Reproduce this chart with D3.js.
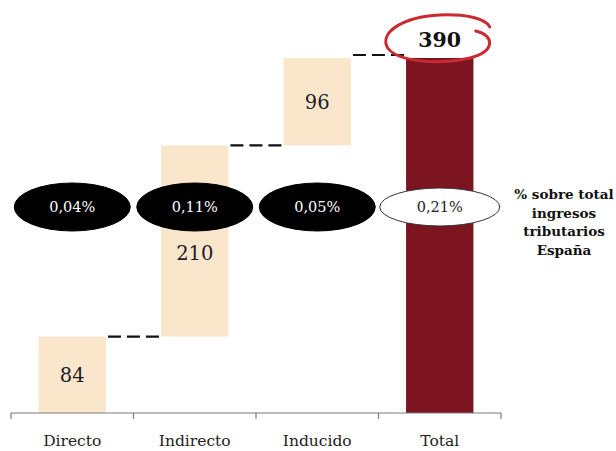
<!DOCTYPE html>
<html>
<head>
<meta charset="utf-8">
<script src="https://cdn.jsdelivr.net/npm/d3@7"></script>
<style>
  html, body { margin: 0; padding: 0; background: #fff; }
  svg { display: block; }
</style>
</head>
<body>
<svg id="chart" width="616" height="451"></svg>
<script>
// ---- data ----
const categories = ["Directo", "Indirecto", "Inducido", "Total"];
const values = [84, 210, 96, 390];
const isTotal = [false, false, false, true];
const pctLabels = ["0,04%", "0,11%", "0,05%", "0,21%"];
const sideLabel = ["% sobre total", "ingresos", "tributarios", "España"];

// ---- layout ----
const W = 616, H = 451;
const axisY = 413, topY = 58;
const svg = d3.select("#chart");
const serif = "'DejaVu Serif', 'Liberation Serif', serif";

const x = d3.scaleBand().domain(categories).range([11, 501]).padding(0);
const y = d3.scaleLinear().domain([0, 390]).range([axisY, topY]);
const barW = x.bandwidth() * 0.55;

// waterfall
let cum = 0;
const bars = categories.map((c, i) => {
  let y0, y1;
  if (isTotal[i]) { y0 = 0; y1 = values[i]; }
  else { y0 = cum; y1 = cum + values[i]; cum = y1; }
  return { cat: c, v: values[i], y0, y1, total: isTotal[i], pct: pctLabels[i] };
});

const cx = c => x(c) + x.bandwidth() / 2;

// bars
svg.selectAll("rect.bar").data(bars).join("rect")
  .attr("class", "bar")
  .attr("x", d => cx(d.cat) - barW / 2)
  .attr("width", barW)
  .attr("y", d => y(d.y1))
  .attr("height", d => y(d.y0) - y(d.y1))
  .attr("fill", d => d.total ? "#7c1520" : "#fae7cb");

// connectors
const conn = bars.slice(0, -1).map((d, i) => ({ from: d, to: bars[i + 1] }));
svg.selectAll("line.conn").data(conn).join("line")
  .attr("class", "conn")
  .attr("x1", d => cx(d.from.cat) + barW / 2 + 2)
  .attr("x2", d => cx(d.to.cat) - barW / 2 - 2)
  .attr("y1", (d, i) => y(d.from.y1) - (i === 2 ? 3 : 0))
  .attr("y2", (d, i) => y(d.from.y1) - (i === 2 ? 3 : 0))
  .attr("stroke", "#111")
  .attr("stroke-width", 2.2)
  .attr("stroke-dasharray", "13,6");

// axis
const g = svg.append("g");
g.append("line").attr("x1", 11).attr("x2", 501).attr("y1", axisY).attr("y2", axisY)
  .attr("stroke", "#7a7a7a").attr("stroke-width", 1.2);
const bounds = categories.map(c => x(c)).concat([x(categories[categories.length - 1]) + x.bandwidth()]);
g.selectAll("line.tick").data(bounds).join("line")
  .attr("class", "tick")
  .attr("x1", d => d).attr("x2", d => d)
  .attr("y1", axisY).attr("y2", axisY + 6)
  .attr("stroke", "#7a7a7a").attr("stroke-width", 1.2);
g.selectAll("text.cat").data(categories).join("text")
  .attr("class", "cat")
  .attr("x", d => cx(d)).attr("y", 446)
  .attr("text-anchor", "middle")
  .attr("font-family", serif).attr("font-size", 15.5)
  .attr("fill", "#222")
  .text(d => d);

// ellipses
const ellY = 207;
const eg = svg.selectAll("g.ell").data(bars).join("g").attr("class", "ell");
eg.append("ellipse")
  .attr("cx", d => cx(d.cat))
  .attr("cy", ellY)
  .attr("rx", d => d.total ? 60 : 58)
  .attr("ry", d => d.total ? 19 : 24)
  .attr("fill", d => d.total ? "#fff" : "#000")
  .attr("stroke", d => d.total ? "#333" : "#000")
  .attr("stroke-width", 1);
eg.append("text")
  .attr("x", d => cx(d.cat)).attr("y", ellY)
  .attr("dy", "0.35em")
  .attr("text-anchor", "middle")
  .attr("font-family", serif).attr("font-size", 14.5)
  .attr("fill", d => d.total ? "#222" : "#fff")
  .text(d => d.pct);

// value labels
svg.selectAll("text.val").data(bars.filter(d => !d.total)).join("text")
  .attr("class", "val")
  .attr("x", d => cx(d.cat))
  .attr("y", d => {
    const mid = (y(d.y0) + y(d.y1)) / 2;
    return Math.abs(mid - ellY) < 40 ? ellY + 46 : mid;
  })
  .attr("dy", "0.35em")
  .attr("text-anchor", "middle")
  .attr("font-family", serif).attr("font-size", 19.5)
  .attr("fill", "#1c1c2a")
  .text(d => d.v);

// total label with red scribble circle
const tot = bars[bars.length - 1];
const tx = cx(tot.cat);
svg.append("text")
  .attr("x", tx).attr("y", 47)
  .attr("text-anchor", "middle")
  .attr("font-family", serif).attr("font-size", 20.5).attr("font-weight", "bold")
  .attr("fill", "#111")
  .text(tot.v);
svg.append("path")
  .attr("d", `M ${tx+36},31 C ${tx+54},35 ${tx+57},51 ${tx+30},58 C ${tx},65 ${tx-42},62 ${tx-52},48 C ${tx-61},33 ${tx-38},17 ${tx},15 C ${tx+25},14 ${tx+46},18 ${tx+50},27`)
  .attr("fill", "none")
  .attr("stroke", "#cc2a33")
  .attr("stroke-width", 3)
  .attr("stroke-linecap", "round");

// side label
svg.append("text")
  .attr("x", 564).attr("y", 199)
  .attr("text-anchor", "middle")
  .attr("font-family", serif).attr("font-size", 13.5).attr("font-weight", "bold")
  .attr("fill", "#111")
  .selectAll("tspan").data(sideLabel).join("tspan")
  .attr("x", 564)
  .attr("dy", (d, i) => i === 0 ? 0 : 18.5)
  .text(d => d);
</script>
</body>
</html>
